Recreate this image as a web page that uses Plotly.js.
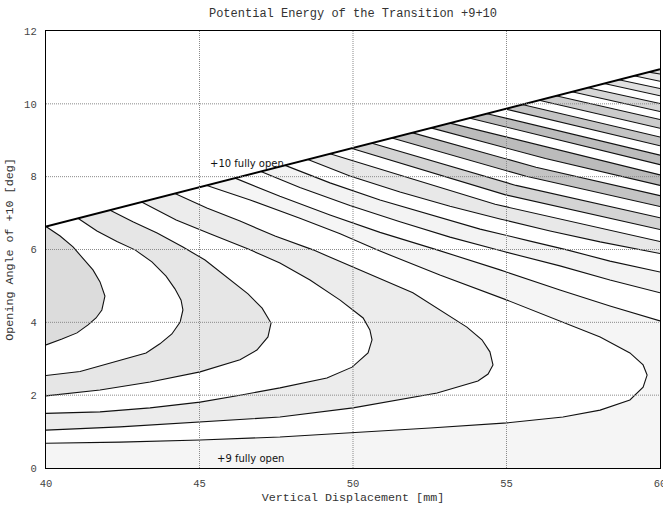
<!DOCTYPE html>
<html><head><meta charset="utf-8">
<script src="https://cdn.plot.ly/plotly-3.0.1.min.js"></script>
<style>html,body{margin:0;padding:0;background:#fff}#chart{width:663px;height:505px}</style>
</head><body><div id="chart"></div>
<script>
// ---- data ----
const titleText = 'Potential Energy of the Transition +9+10';
const xTitle = 'Vertical Displacement [mm]';
const yTitle = 'Opening Angle of +10 [deg]';
const xTicks = [40, 45, 50, 55, 60];
const yTicks = [0, 2, 4, 6, 8, 10, 12];
// upper limit of the domain ("+10 fully open")
const boundaryX = [40, 60];
const boundaryY = [6.63, 10.95];

// contour lines, from the innermost (left) outwards
const c01x = [40.00,40.46,40.88,41.27,41.53,41.76,41.92,41.82,41.63,41.37,41.01,40.52,40.00];
const c01y = [6.63,6.37,6.07,5.71,5.44,5.11,4.72,4.34,4.12,3.93,3.71,3.54,3.38];
const c02x = [41.04,41.66,42.31,42.90,43.45,43.91,44.20,44.40,44.46,44.37,44.10,43.71,43.26,42.35,41.11,40.00];
const c02y = [6.86,6.51,6.22,5.99,5.66,5.27,4.92,4.61,4.34,4.01,3.68,3.41,3.16,2.94,2.65,2.54];
const c03x = [42.09,42.83,43.62,44.46,45.18,45.93,46.58,47.04,47.33,47.23,46.87,46.32,45.02,43.39,41.76,40.00];
const c03y = [7.08,6.76,6.45,6.07,5.71,5.22,4.78,4.39,3.98,3.60,3.24,2.97,2.64,2.36,2.14,1.98];
const c04x = [43.13,44.24,45.34,46.65,47.62,48.60,49.58,50.33,50.55,50.62,50.49,49.97,49.15,47.62,46.32,45.02,43.39,41.76,40.00];
const c04y = [7.30,6.81,6.43,5.99,5.63,5.16,4.61,4.12,3.79,3.52,3.16,2.77,2.47,2.20,2.00,1.81,1.65,1.54,1.50];
const c05x = [44.20,45.24,46.32,47.46,48.70,50.00,51.95,53.71,54.20,54.46,54.56,54.40,54.07,52.74,51.53,50.00,47.62,45.02,42.41,40.00];
const c05y = [7.54,7.14,6.78,6.37,5.99,5.52,4.81,3.87,3.52,3.19,2.83,2.58,2.39,2.06,1.87,1.65,1.40,1.26,1.13,1.04];
const c06x = [45.24,46.65,48.27,49.58,50.78,52.83,55.02,56.84,58.05,59.02,59.45,59.58,59.45,59.02,58.05,56.84,55.02,52.51,49.81,47.62,45.02,42.41,40.00];
const c06y = [7.76,7.36,6.86,6.43,5.99,5.30,4.61,4.01,3.60,3.16,2.83,2.55,2.22,1.87,1.59,1.40,1.24,1.10,0.96,0.85,0.77,0.71,0.68];
const c07x = [46.16,47.62,49.25,50.88,52.74,54.79,56.74,58.37,60.00];
const c07y = [7.96,7.46,6.95,6.47,5.99,5.44,4.89,4.45,4.04];
const c08x = [47.00,48.27,49.90,51.53,53.16,54.79,56.74,58.37,60.00];
const c08y = [8.14,7.70,7.21,6.76,6.34,5.97,5.55,5.16,4.81];
const c09x = [47.79,49.25,50.88,52.51,54.14,55.77,56.97,58.37,60.00];
const c09y = [8.31,7.83,7.36,6.95,6.56,6.23,5.99,5.68,5.38];
const c10x = [48.53,49.90,51.53,53.16,54.79,56.42,58.05,60.00];
const c10y = [8.47,8.02,7.58,7.19,6.84,6.51,6.21,5.89];
const c11x = [49.25,54.63,60]; const c11y = [8.63,7.24,6.22];
const c12x = [49.94,54.97,60]; const c12y = [8.78,7.50,6.55];
const c13x = [50.62,55.31,60]; const c13y = [8.92,7.76,6.87];
const c14x = [51.27,55.64,60]; const c14y = [9.06,8.01,7.18];
const c15x = [51.92,55.96,60]; const c15y = [9.21,8.26,7.48];
const c16x = [52.54,56.27,60]; const c16y = [9.34,8.50,7.76];
const c17x = [53.16,60]; const c17y = [9.47,8.05];
const c18x = [53.78,60]; const c18y = [9.61,8.33];
const c19x = [54.37,60]; const c19y = [9.73,8.59];
const c20x = [54.95,60]; const c20y = [9.86,8.85];
const c21x = [55.51,60]; const c21y = [9.98,9.09];
const c22x = [56.06,60]; const c22y = [10.10,9.33];
const c23x = [56.61,60]; const c23y = [10.22,9.57];
const c24x = [57.13,60]; const c24y = [10.33,9.79];
const c25x = [57.66,60]; const c25y = [10.44,10.01];
const c26x = [58.18,60]; const c26y = [10.56,10.22];
const c27x = [58.66,60]; const c27y = [10.66,10.42];
const c28x = [59.15,60]; const c28y = [10.77,10.62];
const c29x = [59.64,60]; const c29y = [10.87,10.82];

// fill of each band (band 0 = inside the first line)
const bandColors = ['#dcdcdc','#ffffff','#e6e6e6','#ffffff','#ececec','#ffffff','#f5f5f5','#ffffff',
  '#f3f3f3','#ffffff','#e8e8e8','#ffffff','#d4d4d4','#ffffff','#c4c4c4','#ffffff','#bbbbbb','#ffffff',
  '#bcbcbc','#ffffff','#c4c4c4','#ffffff','#cccccc','#ffffff','#d6d6d6','#ffffff','#e0e0e0','#ffffff',
  '#e8e8e8','#dedede'];

const labelText = ['+10 fully open', '+9 fully open'];
const labelX = [45.28, 45.50];
const labelY = [8.37, 0.27];

// ---- build the figure ----
const lines = [[c01x,c01y],[c02x,c02y],[c03x,c03y],[c04x,c04y],[c05x,c05y],[c06x,c06y],[c07x,c07y],
  [c08x,c08y],[c09x,c09y],[c10x,c10y],[c11x,c11y],[c12x,c12y],[c13x,c13y],[c14x,c14y],[c15x,c15y],
  [c16x,c16y],[c17x,c17y],[c18x,c18y],[c19x,c19y],[c20x,c20y],[c21x,c21y],[c22x,c22y],[c23x,c23y],
  [c24x,c24y],[c25x,c25y],[c26x,c26y],[c27x,c27y],[c28x,c28y],[c29x,c29y]];

const xMin = xTicks[0], xMax = xTicks[xTicks.length-1];
const yMin = yTicks[0];
const traces = [];
function fillTrace(xs, ys, col) {
  return {type:'scatter', mode:'lines', x:xs, y:ys, fill:'toself', fillcolor:col,
    line:{width:0, color:col}, hoverinfo:'skip', showlegend:false};
}
// whole domain in the innermost colour
traces.push(fillTrace([xMin, xMax, boundaryX[1], boundaryX[0]], [yMin, yMin, boundaryY[1], boundaryY[0]], bandColors[0]));
// paint the region beyond each line with the next band colour
lines.forEach((ln, k) => {
  const xs = ln[0].slice(), ys = ln[1].slice();
  if (xs[xs.length-1] === xMin) { // line returns to the left edge
    xs.push(xMin, xMax, boundaryX[1]); ys.push(yMin, yMin, boundaryY[1]);
  } else { // line ends on the right edge
    xs.push(boundaryX[1]); ys.push(boundaryY[1]);
  }
  traces.push(fillTrace(xs, ys, bandColors[k+1]));
});
lines.forEach(ln => {
  traces.push({type:'scatter', mode:'lines', x:ln[0], y:ln[1], line:{color:'#111', width:1.1},
    hoverinfo:'skip', showlegend:false});
});
traces.push({type:'scatter', mode:'lines', x:boundaryX, y:boundaryY, line:{color:'#000', width:1.9},
  hoverinfo:'skip', showlegend:false});

const mono = "'Liberation Mono', 'DejaVu Sans Mono', monospace";
const shapes = [];
xTicks.slice(1, -1).forEach(v => shapes.push({type:'line', xref:'x', yref:'paper', x0:v, x1:v, y0:0, y1:1,
  layer:'above', line:{color:'#8a8a8a', width:1, dash:'1px,1px'}}));
yTicks.slice(1, -1).forEach(v => shapes.push({type:'line', xref:'paper', yref:'y', x0:0, x1:1, y0:v, y1:v,
  layer:'above', line:{color:'#8a8a8a', width:1, dash:'1px,1px'}}));

const annotations = labelText.map((t, i) => ({x:labelX[i], y:labelY[i], xref:'x', yref:'y', text:t,
  showarrow:false, xanchor:'left', yanchor:'middle', font:{family:"'DejaVu Sans', sans-serif", size:10, color:'#111'}}));

const axisCommon = {showgrid:false, zeroline:false, showline:true, mirror:true, linecolor:'#000', linewidth:1.2,
  ticks:'', tickfont:{family:mono, size:10.5, color:'#444'}, fixedrange:true, ticklabeloverflow:'allow'};

const layout = {
  width:663, height:505,
  margin:{l:46, r:3, t:31, b:37, pad:0},
  paper_bgcolor:'#fff', plot_bgcolor:'#fff',
  showlegend:false,
  title:{text:titleText, font:{family:mono, size:12, color:'#333'}, x:0.5, xref:'paper', xanchor:'center',
    y:1-13/505, yref:'container', yanchor:'middle'},
  xaxis:Object.assign({}, axisCommon, {range:[xMin, xMax], tickvals:xTicks, ticktext:xTicks.map(String),
    ticklabelstandoff:5, title:{text:xTitle, font:{family:mono, size:11.7, color:'#333'}, standoff:6}}),
  yaxis:Object.assign({}, axisCommon, {range:[yMin, yTicks[yTicks.length-1]], tickvals:yTicks, ticktext:yTicks.map(String),
    ticklabelstandoff:6, title:{text:yTitle, font:{family:mono, size:11.7, color:'#333'}, standoff:8}}),
  shapes:shapes,
  annotations:annotations
};
Plotly.newPlot('chart', traces, layout, {staticPlot:true, displayModeBar:false});
</script></body></html>
